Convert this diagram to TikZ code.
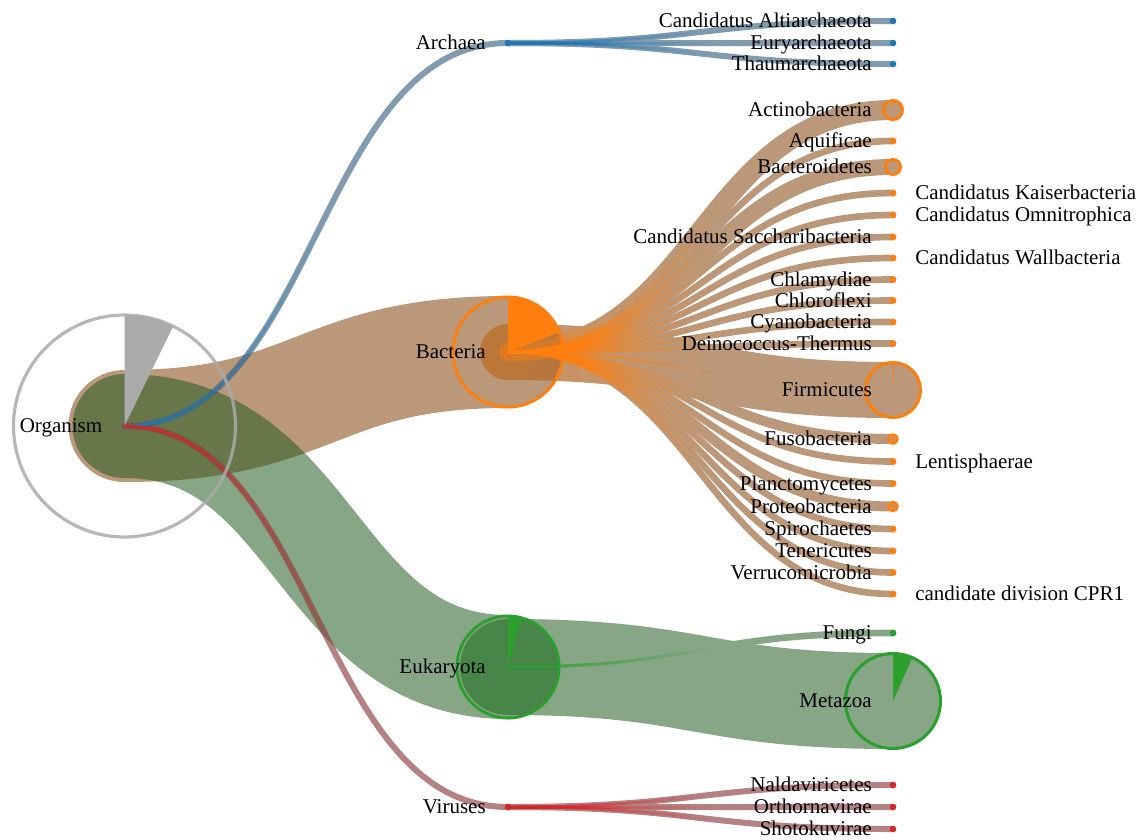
\documentclass[tikz,border=0pt]{standalone}
\usepackage{fontspec}
\setmainfont{Liberation Serif}
\usetikzlibrary{fadings}
\definecolor{tanc}{RGB}{150,97,50}
\definecolor{grnc}{RGB}{35,93,35}
\definecolor{bluc}{RGB}{63,102,132}
\definecolor{redc}{RGB}{140,63,63}
\definecolor{orgc}{RGB}{170,170,170}
\definecolor{arcc}{RGB}{31,119,180}
\definecolor{bacc}{RGB}{255,127,14}
\definecolor{eukc}{RGB}{44,160,44}
\definecolor{virc}{RGB}{214,39,40}
\pgfdeclarehorizontalshading{corefadesh}{100bp}{color(0bp)=(white); color(25bp)=(white); color(52bp)=(black); color(100bp)=(black)}
\pgfdeclarefading{corefade}{\pgfuseshading{corefadesh}}
\newcommand\mylink[3]{\draw[#1] (#2) .. controls +(192,0) and +(-192,0) .. (#3);}
\tikzset{
  band/.style 2 args={draw=#1, line cap=round, line width=#2},
  core/.style={draw=#1, line width=2.25pt, line cap=round, path fading=corefade},
  tint/.style 2 args={draw=#1, draw opacity=0.3, line width=#2, line cap=round, path fading=corefade},
  ring/.style={draw=#1, line width=2.25pt},
  lbl/.style={font=\fontsize{15.75}{18}\selectfont, inner sep=0pt, text=black},
  lblL/.style={lbl, anchor=base east},
  lblR/.style={lbl, anchor=base west}
}
\begin{document}
\begin{tikzpicture}[x=0.75pt,y=-0.75pt]
\useasboundingbox (0,0) rectangle (1145,839);
% node positions
\coordinate (org) at (124.5,426);
\coordinate (arc) at (508,43);
\coordinate (bac) at (508,352);
\coordinate (euk) at (508,667);
\coordinate (vir) at (508,807);
\coordinate (alt) at (893,21);
\coordinate (eur) at (893,43);
\coordinate (tha) at (893,64);
\coordinate (act) at (893,110);
\coordinate (aqu) at (893,141);
\coordinate (bcd) at (893,167);
\coordinate (kai) at (893,193);
\coordinate (omn) at (893,215);
\coordinate (sac) at (893,237);
\coordinate (wal) at (893,258);
\coordinate (chl) at (893,279.5);
\coordinate (chf) at (893,300.5);
\coordinate (cya) at (893,322);
\coordinate (dei) at (893,343.5);
\coordinate (fir) at (893,390);
\coordinate (fus) at (893,439);
\coordinate (len) at (893,461.5);
\coordinate (pla) at (893,483.5);
\coordinate (pro) at (893,506.5);
\coordinate (spi) at (893,529);
\coordinate (ten) at (893,551);
\coordinate (ver) at (893,572.5);
\coordinate (cpr) at (893,594);
\coordinate (fun) at (893,633);
\coordinate (met) at (893,701);
\coordinate (nal) at (893,785);
\coordinate (ort) at (893,807);
\coordinate (sho) at (893,829);
% ---- bands level 1
\mylink{band={tanc}{84pt}, draw opacity=0.65}{org}{bac}
\mylink{band={grnc}{78pt}, draw opacity=0.55}{org}{euk}
% ---- bands level 2 (one group per parent)
\begin{scope}[transparency group, opacity=0.55]
\mylink{band={grnc}{72pt}}{euk}{met}
\mylink{band={grnc}{5pt}}{euk}{fun}
\end{scope}
\begin{scope}[transparency group, opacity=0.65]
\mylink{band={tanc}{15pt}}{bac}{act}
\mylink{band={tanc}{5pt}}{bac}{aqu}
\mylink{band={tanc}{12pt}}{bac}{bcd}
\foreach \c in {kai,omn,sac,wal,chl,chf,cya,dei,len,pla,spi,ten,ver,cpr}{
  \mylink{band={tanc}{5pt}}{bac}{\c}
}
\mylink{band={tanc}{42pt}}{bac}{fir}
\mylink{band={tanc}{7.5pt}}{bac}{fus}
\mylink{band={tanc}{7.5pt}}{bac}{pro}
\end{scope}
\mylink{tint={bacc}{42pt}}{bac}{fir}
\mylink{tint={bacc}{15pt}}{bac}{act}
\mylink{tint={bacc}{12pt}}{bac}{bcd}
\begin{scope}[transparency group, opacity=0.65]
\foreach \c in {alt,eur,tha}{\mylink{band={bluc}{4.5pt}}{arc}{\c}}
\end{scope}
\begin{scope}[transparency group, opacity=0.65]
\foreach \c in {nal,ort,sho}{\mylink{band={redc}{4.5pt}}{vir}{\c}}
\end{scope}
\mylink{band={bluc}{4.5pt}, draw opacity=0.65}{org}{arc}
\mylink{band={redc}{4.5pt}, draw opacity=0.65}{org}{vir}
% ---- cores
\mylink{core=arcc}{org}{arc}
\mylink{core=virc}{org}{vir}
\foreach \c in {alt,eur,tha}{\mylink{core=arcc}{arc}{\c}}
\foreach \c in {nal,ort,sho}{\mylink{core=virc}{vir}{\c}}
\foreach \c in {act,aqu,bcd,kai,omn,sac,wal,chl,chf,cya,dei,fir,fus,len,pla,pro,spi,ten,ver,cpr}{
  \mylink{core=bacc}{bac}{\c}
}
\mylink{core=eukc}{euk}{fun}
% ---- node marks
\draw[draw=orgc, line width=2.4pt, draw opacity=0.85] (org) circle[radius=111];
\fill[orgc] (org) -- ++(-90:111) arc[start angle=-90, end angle=-64, radius=111] -- cycle;
\draw[ring=bacc] (bac) circle[radius=55];
\fill[bacc] (bac) -- ++(-90:55) arc[start angle=-90, end angle=-21, radius=55] -- cycle;
\fill[eukc, fill opacity=0.22] (euk) circle[radius=48];
\draw[ring=eukc] (euk) circle[radius=51];
\fill[eukc] (euk) -- ++(-90:51) arc[start angle=-90, end angle=-75, radius=51] -- cycle;
\draw[ring=eukc] (met) circle[radius=47.5];
\fill[eukc] (met) -- ++(-90:47.5) arc[start angle=-90, end angle=-66, radius=47.5] -- cycle;
\draw[ring=bacc] (fir) circle[radius=27.5];
\fill[bacc] (fir) -- ++(-90:27.5) arc[start angle=-90, end angle=-87, radius=27.5] -- cycle;
\draw[ring=bacc] (act) circle[radius=9.5];
\fill[bacc] (act) -- ++(-90:9.5) arc[start angle=-90, end angle=-82, radius=9.5] -- cycle;
\draw[ring=bacc] (bcd) circle[radius=7.5];
\draw[bacc, line width=1.8pt, fill=bacc, fill opacity=0.4] (fus) circle[radius=4.5];
\draw[bacc, line width=1.8pt, fill=bacc, fill opacity=0.4] (pro) circle[radius=4.5];
\foreach \c in {aqu,kai,omn,sac,wal,chl,chf,cya,dei,len,pla,spi,ten,ver,cpr}{
  \fill[bacc] (\c) circle[radius=3.3];
}
\foreach \c in {arc,alt,eur,tha}{\fill[arcc] (\c) circle[radius=3.3];}
\foreach \c in {vir,nal,ort,sho}{\fill[virc] (\c) circle[radius=3.3];}
\fill[eukc] (fun) circle[radius=3.3];
% ---- labels
\node[lblL] (l-org) at (102.5,432.5) {Organism};
\node[lblL] (l-arc) at (486,49.5) {Archaea};
\node[lblL] (l-bac) at (486,358.5) {Bacteria};
\node[lblL] (l-euk) at (486,673.5) {Eukaryota};
\node[lblL] (l-vir) at (486,813.5) {Viruses};
\node[lblL] (l-alt) at (872,27.5) {Candidatus Altiarchaeota};
\node[lblL] (l-eur) at (872,49.5) {Euryarchaeota};
\node[lblL] (l-tha) at (872,70.5) {Thaumarchaeota};
\node[lblL] (l-act) at (872,116.5) {Actinobacteria};
\node[lblL] (l-aqu) at (872,147.5) {Aquificae};
\node[lblL] (l-bcd) at (872,173.5) {Bacteroidetes};
\node[lblR] (l-kai) at (915,199.5) {Candidatus Kaiserbacteria};
\node[lblR] (l-omn) at (915,221.5) {Candidatus Omnitrophica};
\node[lblL] (l-sac) at (872,243.5) {Candidatus Saccharibacteria};
\node[lblR] (l-wal) at (915,264.5) {Candidatus Wallbacteria};
\node[lblL] (l-chl) at (872,286) {Chlamydiae};
\node[lblL] (l-chf) at (872,307) {Chloroflexi};
\node[lblL] (l-cya) at (872,328.5) {Cyanobacteria};
\node[lblL] (l-dei) at (872,350) {Deinococcus-Thermus};
\node[lblL] (l-fir) at (872,396.5) {Firmicutes};
\node[lblL] (l-fus) at (872,445.5) {Fusobacteria};
\node[lblR] (l-len) at (915,468) {Lentisphaerae};
\node[lblL] (l-pla) at (872,490) {Planctomycetes};
\node[lblL] (l-pro) at (872,513) {Proteobacteria};
\node[lblL] (l-spi) at (872,535.5) {Spirochaetes};
\node[lblL] (l-ten) at (872,557.5) {Tenericutes};
\node[lblL] (l-ver) at (872,579) {Verrucomicrobia};
\node[lblR] (l-cpr) at (915,600.5) {candidate division CPR1};
\node[lblL] (l-fun) at (872,639.5) {Fungi};
\node[lblL] (l-met) at (872,707.5) {Metazoa};
\node[lblL] (l-nal) at (872,791.5) {Naldaviricetes};
\node[lblL] (l-ort) at (872,813.5) {Orthornavirae};
\node[lblL] (l-sho) at (872,835.5) {Shotokuvirae};
\end{tikzpicture}
\end{document}
